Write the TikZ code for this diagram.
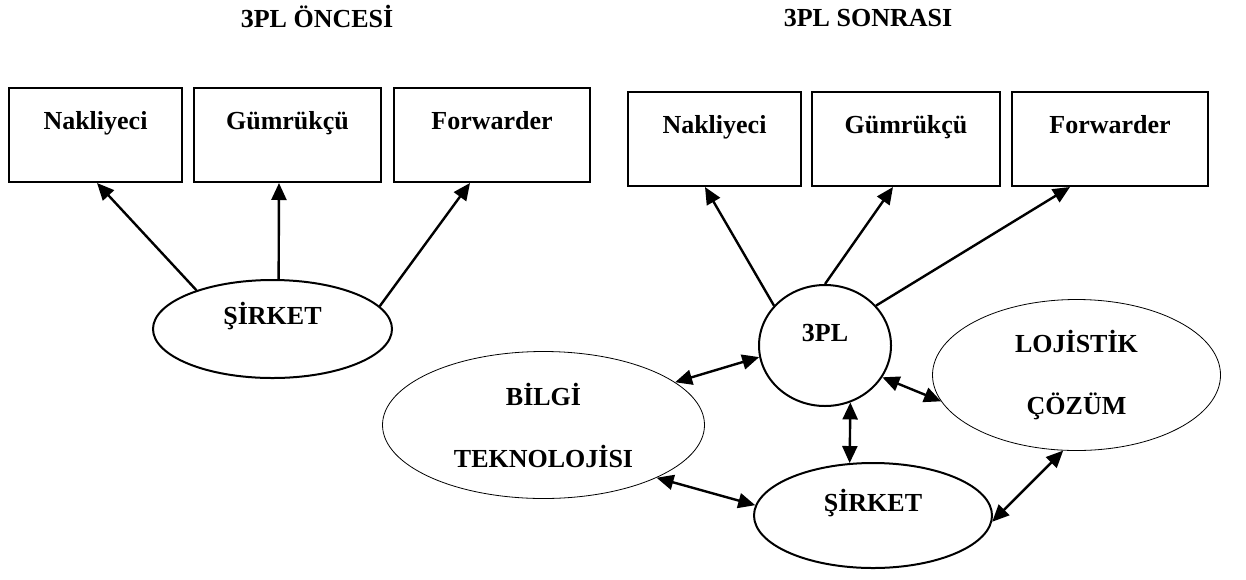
\documentclass[tikz,border=0pt]{standalone}
\usepackage{fontspec}
\setmainfont{Liberation Serif}
\usetikzlibrary{arrows.meta,shapes.geometric}
\begin{document}
\begin{tikzpicture}[x=1pt,y=-1pt,thick]
\tikzset{partner/.style={draw,line width=2pt,rectangle,inner sep=0pt,
text height=18pt,text depth=30pt},
hub/.style={draw,line width=2pt,ellipse,inner sep=0pt,
text height=18pt,text depth=27pt},
area/.style={draw,line width=0.8pt,ellipse,inner sep=0pt,align=center},
oneway/.style={line width=2.4pt,-{Triangle[length=17pt,width=15pt]}},
twoway/.style={line width=2.4pt,
{Triangle[length=17pt,width=15pt]}-{Triangle[length=17pt,width=15pt]}},
every node/.style={font=\fontsize{26}{62}\selectfont\bfseries},
}
\useasboundingbox (0,0) rectangle (1246,579);

% before 3PL
\node[anchor=base] (titleA) at (317,27) {3PL ÖNCESİ};
\node[partner,minimum width=173pt,minimum height=94pt] (nakA) at (95.5,135) {Nakliyeci};
\node[partner,minimum width=187pt,minimum height=94pt] (gumA) at (287.5,135) {Gümrükçü};
\node[partner,minimum width=196pt,minimum height=94pt] (fwdA) at (492,135) {Forwarder};
\node[hub,minimum width=239pt,minimum height=98pt] (sirketA) at (272.5,329) {ŞİRKET};
\draw[oneway] (sirketA.153) -- ([xshift=1.5pt]nakA.south);
\draw[oneway] (sirketA.83) -- ([xshift=-8.5pt]gumA.south);
\draw[oneway] (sirketA.12) -- ([xshift=-22pt]fwdA.south);

% after 3PL
\node[anchor=base] (titleB) at (868,26) {3PL SONRASI};
\node[partner,minimum width=173pt,minimum height=94pt] (nakB) at (714.5,139) {Nakliyeci};
\node[partner,minimum width=188pt,minimum height=94pt] (gumB) at (906,139) {Gümrükçü};
\node[partner,minimum width=196pt,minimum height=94pt] (fwdB) at (1110,139) {Forwarder};
\node[hub,minimum width=132pt,minimum height=121pt] (tpl) at (825,345.5) {3PL};
\node[area,minimum width=322pt,minimum height=147pt] (bilgi) at (543.5,425) {BİLGİ\\TEKNOLOJİSI};
\node[area,minimum width=288pt,minimum height=151pt] (lojistik) at (1076.5,375) {LOJİSTİK\\ÇÖZÜM};
\node[hub,minimum width=238pt,minimum height=105pt] (sirketB) at (873,515.5) {ŞİRKET};
\draw[oneway] (tpl.142) -- ([xshift=-9.5pt]nakB.south);
\draw[oneway] (tpl.90) -- ([xshift=-13pt]gumB.south);
\draw[oneway] (tpl.38) -- ([xshift=-40pt]fwdB.south);
\draw[twoway] (bilgi.18) -- (tpl.190);
\draw[twoway] (tpl.331) -- (lojistik.191);
\draw[twoway] (tpl.294) -- (sirketB.114);
\draw[twoway] (bilgi.335) -- (sirketB.175);
\draw[twoway] (sirketB.357) -- (lojistik.260);
\end{tikzpicture}
\end{document}
